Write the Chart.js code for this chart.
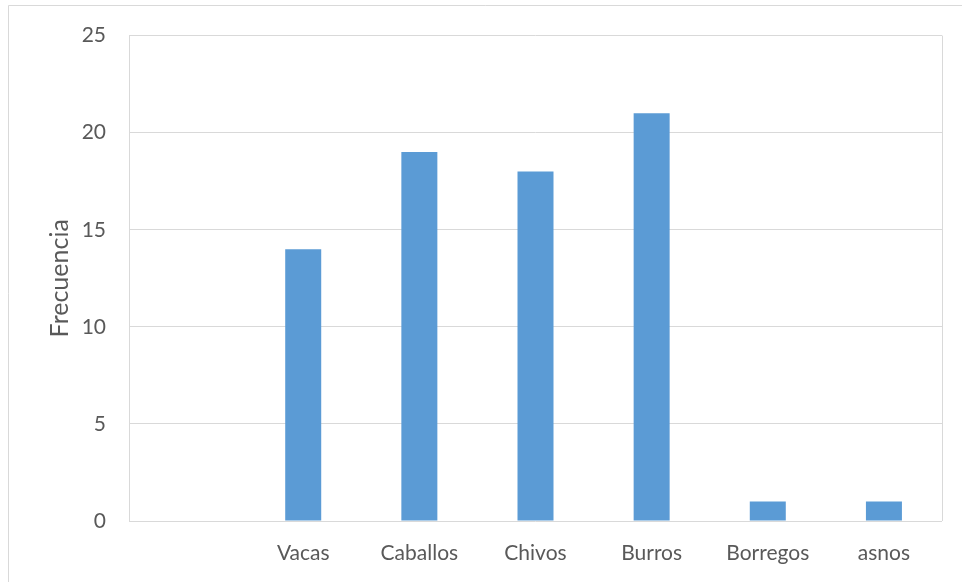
<!DOCTYPE html>
<html><head><meta charset="utf-8">
<script src="https://cdn.jsdelivr.net/npm/chart.js@4/dist/chart.umd.min.js"></script>
<style>html,body{margin:0;padding:0;background:#fff;}#wrap{width:962px;height:582px;position:relative;}</style>
</head><body><div id="wrap"><canvas id="c" width="962" height="582"></canvas></div>
<script>
const categories = ['', 'Vacas', 'Caballos', 'Chivos', 'Burros', 'Borregos', 'asnos'];
const frecuencia = [null, 14, 19, 18, 21, 1, 1];
const yTicks = [0, 5, 10, 15, 20, 25];
const yTitle = 'Frecuencia';

const FONT = 'Lato, "Open Sans", sans-serif';
const TXT = '#595959';
const GRID = '#D9D9D9';

const framePlugin = {
  id: 'frame',
  beforeDraw(chart) {
    const ctx = chart.ctx;
    ctx.save();
    ctx.fillStyle = '#fff';
    ctx.fillRect(0, 0, chart.width, chart.height);
    ctx.strokeStyle = GRID;
    ctx.lineWidth = 1;
    ctx.beginPath();
    ctx.moveTo(8.5, chart.height);
    ctx.lineTo(8.5, 5.5);
    ctx.lineTo(chart.width, 5.5);
    ctx.stroke();
    ctx.restore();
  },
  beforeDatasetsDraw(chart) {
    const a = chart.chartArea, ctx = chart.ctx;
    ctx.save();
    ctx.strokeStyle = GRID;
    ctx.lineWidth = 1;
    ctx.beginPath();
    ctx.moveTo(Math.round(a.left) + 0.5, a.bottom);
    ctx.lineTo(Math.round(a.left) + 0.5, a.top);
    ctx.moveTo(Math.round(a.right) + 0.5, a.bottom);
    ctx.lineTo(Math.round(a.right) + 0.5, a.top);
    ctx.stroke();
    ctx.restore();
  }
};

new Chart(document.getElementById('c'), {
  type: 'bar',
  data: {
    labels: categories,
    datasets: [{
      data: frecuencia,
      backgroundColor: '#5B9BD5',
      borderWidth: 0,
      categoryPercentage: 1,
      barPercentage: 0.31
    }]
  },
  options: {
    responsive: false,
    animation: false,
    devicePixelRatio: 1,
    layout: { padding: { top: 34, right: 20, bottom: 0, left: 0 } },
    plugins: { legend: { display: false }, tooltip: { enabled: false } },
    scales: {
      x: {
        grid: { display: false, drawTicks: false },
        border: { display: false },
        ticks: { color: TXT, font: { family: FONT, size: 21 }, padding: 20, maxRotation: 0 },
        afterFit(s) { s.height = 61; }
      },
      y: {
        min: 0, max: 25,
        afterBuildTicks(s) { s.ticks = yTicks.map(v => ({ value: v })); },
        grid: { color: GRID, lineWidth: 1, drawTicks: false },
        border: { display: false },
        ticks: { color: TXT, font: { family: FONT, size: 21 }, padding: 23 },
        title: { display: true, text: yTitle, color: TXT, font: { family: FONT, size: 25 }, padding: { top: 45, bottom: 0 } },
        afterFit(s) { s.width = 129; }
      }
    }
  },
  plugins: [framePlugin]
});
</script></body></html>
